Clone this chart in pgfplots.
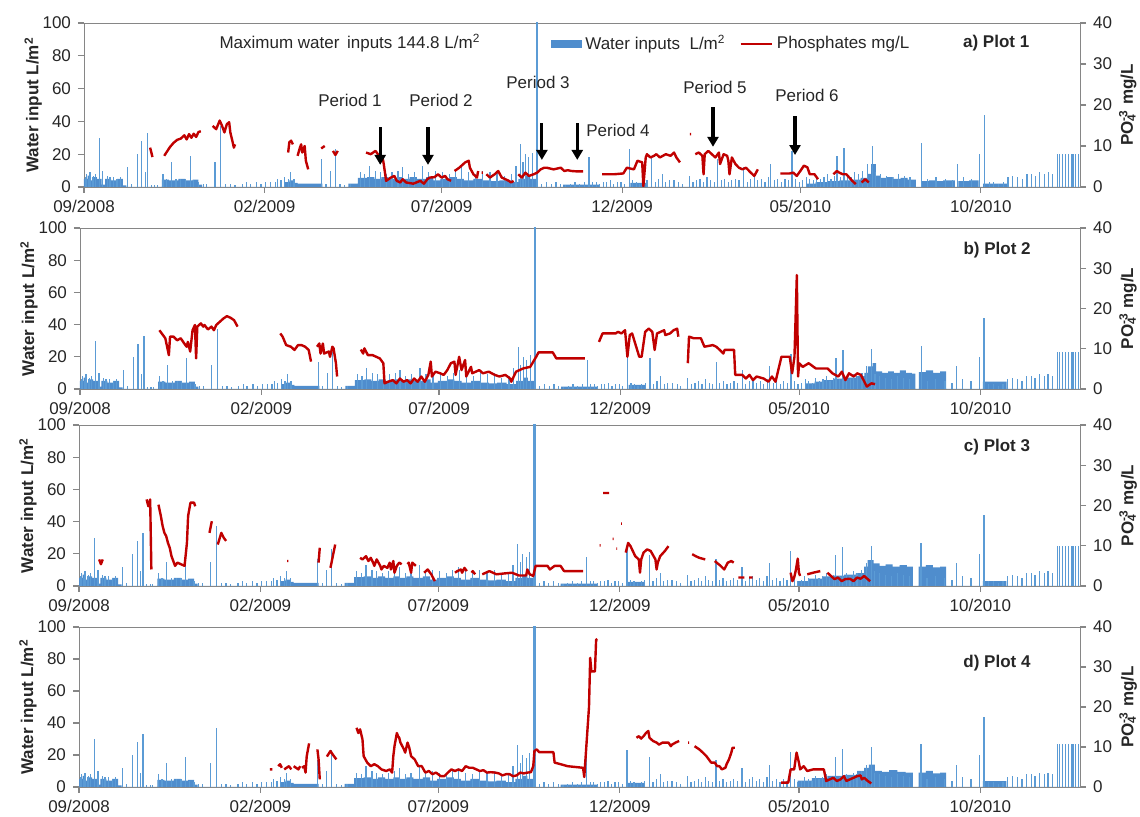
\documentclass[border=0pt]{standalone}
\usepackage{fontspec}
\setmainfont{Liberation Sans}
\usepackage{pgfplots}
\usepackage{pgfplotstable}
\pgfplotsset{compat=1.18}
\usetikzlibrary{arrows.meta}

\definecolor{wblue}{RGB}{79,141,205}
\definecolor{wbluelt}{RGB}{91,155,213}
\definecolor{pred}{RGB}{192,0,0}
\definecolor{axgray}{RGB}{134,134,134}
\definecolor{txt}{RGB}{38,38,38}
\newcommand{\tfont}{\fontsize{8.5}{10}\selectfont}

% daily water inputs: dense low base (step) + single days
\pgfplotstableread[row sep=\\]{
d v\\
0 5\\ 3 7\\ 5 4\\ 8 6\\ 11 5\\ 15 1.5\\ 18 5\\ 23 4\\ 28 5\\ 33 1\\ 36 0\\ 66 4.5\\ 72 4\\ 80 5\\ 86 4\\ 92 4.5\\ 97 1.5\\ 100 0\\
170 3\\ 174 4\\ 178 2.5\\ 181 2\\ 202 0\\ 224 2\\ 232 5.5\\ 240 6\\ 246 5\\ 252 6\\ 258 5\\ 265 6\\ 270 5\\ 276 6\\ 282 5\\
290 6\\ 296 4\\ 302 5\\ 310 6\\ 316 5\\ 322 4\\ 330 5\\ 338 4\\ 345 3.5\\ 352 4\\ 360 3\\ 368 5\\ 374 7\\ 378 5\\ 384 0\\
406 1.5\\ 437 0\\ 463 2.5\\ 477 0\\ 606 0\\
}\floorearly

\pgfplotstableread[row sep=\\]{
d v\\
606 0\\ 612 2\\ 620 3\\ 630 3.5\\ 640 4\\ 650 4.5\\ 658 5.5\\ 664 8\\ 667 14\\ 671 7\\ 675 5.5\\ 680 6\\ 686 5\\ 692 5.5\\
698 4.5\\ 705 0\\ 710 3.5\\ 716 4\\ 722 3.5\\ 728 4\\ 738 0\\ 741 3.5\\ 750 4\\ 758 0\\ 762 2\\ 782 0\\ 844 0\\
}\floorA
\pgfplotstableread[row sep=\\]{
d v\\
606 0\\ 612 3.5\\ 620 4.5\\ 627 5.5\\ 636 6.5\\ 645 7\\ 655 8\\ 662 10\\ 665 14\\ 669 16\\ 672 11\\ 677 10\\ 682 11\\ 687 10\\
692 11.5\\ 697 10\\ 702 9.5\\ 705 0\\ 708 10.5\\ 714 11.5\\ 720 10\\ 726 11\\ 731 0\\ 762 4.5\\ 782 0\\ 844 0\\
}\floorB
\pgfplotstableread[row sep=\\]{
d v\\
606 3\\ 615 4.5\\ 627 6\\ 636 6.5\\ 645 7\\ 655 8\\ 662 12\\ 665 16\\ 670 14\\ 675 12.5\\ 680 13.5\\ 686 12\\ 692 13\\ 698 12\\
703 0\\ 708 12\\ 714 13\\ 720 11.5\\ 726 12\\ 731 0\\ 762 3\\ 782 0\\ 844 0\\
}\floorC
\pgfplotstableread[row sep=\\]{
d v\\
606 4\\ 618 5.5\\ 631 7\\ 645 7.5\\ 656 10\\ 662 12\\ 666 14\\ 671 10\\ 677 9.5\\ 683 10.5\\ 690 9.5\\ 697 9\\ 703 0\\ 708 9\\
714 10\\ 720 8.5\\ 726 9\\ 731 0\\ 762 3.7\\ 782 0\\ 844 0\\
}\floorD

\pgfplotstableread[row sep=\\]{
d v\\
1 6\\ 2 8\\ 4 5\\ 5 9\\ 7 6\\ 8 7\\ 10 8\\ 13 30\\ 16 10\\ 20 7\\ 22 6\\ 25 6\\ 28 5\\ 31 6\\ 37 12\\ 40 2\\ 45 20\\ 49 28\\
52 9\\ 54 33\\ 57 1\\ 60 1\\ 62 1\\ 67 8\\ 70 5\\ 74 15\\ 78 5\\ 82 5\\ 86 5\\ 90 19\\ 93 4\\ 97 3\\ 101 2\\ 104 2\\ 111 15\\
116 37\\ 120 2\\ 124 2\\ 128 1\\ 134 2\\ 138 3\\ 141 2\\ 146 3\\ 150 2\\ 154 3\\ 158 3\\ 162 3\\ 164 5\\ 167 4\\ 170 6\\ 173 5\\
175 9\\ 178 5\\ 201 17\\ 205 2\\ 209 10\\ 213 23\\ 217 2\\ 221 1\\ 226 2\\ 234 9\\ 238 8\\ 242 13\\ 247 10\\ 251 9\\ 256 8\\
261 9\\ 266 10\\ 270 12\\ 275 8\\ 280 9\\ 287 13\\ 292 9\\ 298 10\\ 304 9\\ 310 8\\ 315 10\\ 320 12\\ 326 9\\ 332 8\\ 338 10\\
344 9\\ 350 10\\ 356 7\\ 362 8\\ 366 13\\ 370 26\\ 372 15\\ 374 20\\ 377 18\\ 380 21\\
388 2\\ 392 3\\ 396 2\\ 400 3\\ 404 2\\ 408 1\\ 412 2\\ 416 3\\ 420 2\\ 424 3\\ 428 18\\ 431 3\\ 434 3\\ 437 2\\ 440 3\\ 443 3\\
446 4\\ 449 2\\ 452 3\\ 455 3\\ 458 2\\ 462 23\\ 465 4\\ 468 3\\ 471 2\\ 474 3\\ 477 4\\ 481 19\\ 484 3\\ 487 5\\ 490 8\\
493 3\\ 496 4\\ 500 4\\ 504 3\\ 507 2\\ 513 7\\ 516 3\\ 519 4\\ 522 5\\ 525 3\\ 528 6\\ 531 4\\ 534 3\\ 537 17\\ 540 4\\ 543 5\\
546 3\\ 549 4\\ 552 5\\ 555 4\\ 559 12\\ 562 3\\ 565 5\\ 568 6\\ 571 4\\ 574 5\\ 577 3\\ 580 6\\ 582 14\\ 585 4\\ 588 5\\
591 3\\ 594 5\\ 597 4\\ 600 22\\ 603 5\\ 606 3\\ 609 4\\ 612 6\\ 615 5\\ 618 4\\ 621 7\\ 624 5\\ 627 6\\ 630 8\\ 633 5\\
636 7\\ 638 19\\ 641 6\\ 644 24\\ 647 8\\ 650 6\\ 653 9\\ 656 8\\ 660 10\\ 664 14\\ 668 25\\ 671 9\\ 675 8\\ 680 7\\ 685 6\\
690 8\\ 695 7\\ 700 6\\ 710 27\\ 715 5\\ 722 6\\ 730 5\\ 736 4\\ 740 14\\ 745 6\\ 752 5\\ 759 20\\ 763 44\\ 767 3\\ 771 3\\
775 2\\ 779 3\\ 783 6\\ 787 7\\ 791 6\\ 795 5\\ 799 8\\ 803 8\\ 806 7\\ 810 9\\ 814 8\\ 817 9\\ 821 8\\
}\spikes

% phosphates, mg/L (nan = gap in the record)
\pgfplotstableread[row sep=\\]{
d v\\
56 9.6\\ 57 8.5\\ 58 7.3\\ nan nan\\
68 7.6\\ 70 8.5\\ 73 9.8\\ 76 10.8\\ 79 11.5\\ 82 11.8\\ 85 12.6\\ 87 11.6\\ 89 12.9\\ 91 12.0\\ 93 13.0\\ 95 12.2\\ 97 13.4\\ 99 13.6\\ nan nan\\
109 14.9\\ 112 14.1\\ 115 16.2\\ 117 14.9\\ 119 13.3\\ 121 15.3\\ 123 15.8\\ 124 13.3\\ 126 10.9\\ 127 9.6\\ 128 10.4\\ nan nan\\
173 8.4\\ 174 10.9\\ 175.5 11.3\\ 177 10.4\\ nan nan\\
181 7.6\\ 183 9.6\\ 184 10.4\\ 185 8.4\\ 187 10.0\\ 188 6.4\\ 190 4.3\\ nan nan\\
201 9.4\\ 204 10.0\\ nan nan\\
211 8.8\\ 213 7.8\\ 215 8.8\\ nan nan\\
239 8.4\\ 243 8.0\\ 247 8.8\\ 250 7.6\\ 253 7.2\\ 254 5.6\\ 256 1.5\\ 260 2.3\\ 263 2.7\\ 265 1.5\\ 268 1.1\\ 270 1.9\\ 273 1.1\\
279 0.8\\ 285 1.5\\ 288 0.8\\ 291 1.9\\ 293 2.3\\ 297 2.4\\ 300 3.1\\ 303 2.3\\ 306 2.7\\ 308 1.9\\ 311 1.5\\ nan nan\\
314 3.9\\ 318 4.7\\ 323 6.0\\ 326 6.4\\ 327 4.7\\ 330 3.1\\ 333 2.3\\ 334 3.9\\ nan nan\\
337 3.5\\ 338 3.5\\ nan nan\\
341 3.1\\ 344 2.3\\ 348 3.1\\ 351 3.9\\ 354 2.3\\ 357 1.9\\ 360 1.5\\ 362 1.1\\ 364 1.5\\ nan nan\\
368 3.1\\ 371 2.3\\ 374 3.5\\ 377 2.7\\ 381 3.1\\ 384 3.5\\ 387 4.3\\ 390 4.7\\ 392 4.7\\ 398 4.3\\ 404 4.7\\ 407 3.9\\ 410 4.1\\
413 3.9\\ 418 3.8\\ 423 3.8\\ nan nan\\
439 3.1\\ 449 3.1\\ 457 3.3\\ 460 4.7\\ 466 4.3\\ 469 6.4\\ 473 6.0\\ 474 0.2\\ 476 7.2\\ 477 8.0\\ 480 7.2\\ 483 7.6\\ 485 8.0\\
488 7.2\\ 493 8.0\\ 497 7.6\\ 500 8.4\\ 502 7.2\\ 505 6.0\\ nan nan\\
513.5 12.9\\ 514.5 12.9\\ nan nan\\
518 8.0\\ 521 8.4\\ 524 7.6\\ 525 3.1\\ 526 8.0\\ 529 8.8\\ 532 8.0\\ 535 7.2\\ 538 8.4\\ 539 5.6\\ 542 8.0\\ 545 7.6\\ 546 6.4\\
547 3.1\\ 549 7.2\\ 552 5.6\\ 555 4.7\\ 558 4.3\\ 561 4.7\\ 565 3.5\\ 568 2.7\\ 571 4.3\\ nan nan\\
590 3.3\\ 598 3.3\\ 601 3.5\\ 604 2.7\\ 607 3.9\\ 610 5.2\\ 613 4.8\\ 615 3.1\\ 619 3.1\\ 622 1.9\\ nan nan\\
635 3.1\\ 638 3.9\\ 640 3.5\\ 643 3.1\\ 646 3.1\\ 651 1.5\\ 654 0.7\\ nan nan\\
659 1.1\\ 662 1.9\\ 665 1.1\\
}\redA

\pgfplotstableread[row sep=\\]{
d v\\
67 14.6\\ 70 13.4\\ 72 12.6\\ 75 8.4\\ 76 13.0\\ 79 13.0\\ 82 12.1\\ 85 12.6\\ 88 11.3\\ 90 10.5\\ 91 11.7\\ 93 9.3\\ 95 14.6\\
97 15.9\\ 98 7.6\\ 99 15.5\\ 102 16.3\\ 104 15.5\\ 105 15.9\\ 108 14.8\\ 111 15.5\\ 113 14.6\\ 115 15.9\\ 118 16.7\\ 121 17.5\\
124 18.1\\ 127 17.7\\ 130 17.1\\ 133 15.5\\ nan nan\\
169 13.8\\ 171 13.0\\ 174 10.9\\ 178 10.5\\ 181 9.7\\ 184 10.9\\ 187 10.9\\ 190 10.5\\ 193 9.7\\ 195 6.8\\ nan nan\\
200 10.5\\ 202 11.3\\ 203 8.8\\ 205 11.3\\ 206 8.8\\ 210 9.3\\ 211 8.0\\ 213 10.5\\ 214 10.1\\ 216 6.4\\ 217 3.1\\ nan nan\\
237 9.8\\ 239 8.8\\ 240 10.1\\ 243 8.4\\ 247 8.4\\ 250 8.0\\ 253 7.6\\ 256 6.4\\ 257 1.4\\ 260 1.8\\ 264 2.2\\ 267 1.4\\ 270 2.6\\
273 1.8\\ 276 2.2\\ 279 1.4\\ 282 2.6\\ 285 1.8\\ 288 3.1\\ 291 1.8\\ 294 3.5\\ 296 6.8\\ 297 3.1\\ 300 4.3\\ 304 3.9\\ 307 3.5\\
310 4.7\\ 313 6.4\\ 316 6.8\\ 317 3.5\\ 320 8.0\\ 322 4.7\\ 325 7.2\\ 326 3.1\\ 330 5.5\\ 331 3.9\\ 334 4.3\\ 337 4.7\\ 340 3.9\\
345 4.3\\ 350 3.5\\ 354 3.1\\ 359 3.5\\ 363 2.6\\ 364 1.8\\ 368 4.3\\ 374 5.1\\ 380 5.5\\ 385 8.0\\ 387 9.1\\ 393 9.1\\ 399 9.1\\
402 7.6\\ 408 7.6\\ 416 7.6\\ 426 7.6\\ nan nan\\
438 11.7\\ 441 13.8\\ 452 13.8\\ 454 14.2\\ 457 13.8\\ 460 14.6\\ 462 8.0\\ 464 13.4\\ 466 13.8\\ 469 10.9\\ 472 8.0\\ 474 8.0\\
477 14.2\\ 480 15.0\\ 483 14.2\\ 485 9.7\\ 487 13.8\\ 490 14.2\\ 493 14.6\\ 494 13.4\\ 498 13.8\\ 501 14.6\\ 504 15.0\\ 505 13.0\\ nan nan\\
513 6.4\\ 514 13.0\\ 518 12.6\\ 524 12.6\\ 527 10.5\\ 534 10.9\\ 537 10.5\\ 540 9.7\\ 543 8.8\\ 544 9.7\\ 552 9.7\\ 553 3.5\\
559 3.5\\ 562 2.6\\ 565 3.5\\ 568 2.2\\ 571 3.1\\ 577 2.6\\ 581 1.8\\ 584 3.1\\ 587 1.8\\ 592 8.0\\ 599 8.0\\ 601 3.9\\ 603 8.0\\
605 28.3\\ 606 3.1\\ 607 6.4\\ 610 5.5\\ 615 6.4\\ 621 5.1\\ 631 5.1\\ 635 3.9\\ 640 3.1\\ 643 4.3\\ 646 2.2\\ 649 3.9\\ 653 3.1\\
656 3.9\\ 659 3.5\\ 662 1.8\\ 664 0.6\\ 668 1.4\\ 671 1.2\\
}\redB

\pgfplotstableread[row sep=\\]{
d v\\
17 6.6\\ 18.5 5.4\\ 20 6.6\\ nan nan\\
57 21.5\\ 58.5 19.8\\ 60 21.5\\ 61 4.1\\ nan nan\\
67 20.2\\ 69 17.4\\ 70.5 14.9\\ 72 13.2\\ 73.5 12.4\\ 75 10.7\\ 76.5 9.5\\ 78 7.4\\ 81 5.0\\ 83 5.8\\ 86 5.4\\ 89 5.0\\ 91 10.7\\
92 17.4\\ 94 20.7\\ 97 20.7\\ 98 19.8\\ nan nan\\
110 13.2\\ 112 16.1\\ nan nan\\
117 10.3\\ 120 13.2\\ 122 12.0\\ 124 11.2\\ nan nan\\
175.5 6.2\\ 176.5 6.2\\ nan nan\\
202 5.8\\ 203 9.5\\ nan nan\\
212 4.5\\ 214 7.4\\ 216 10.3\\ nan nan\\
237 7.0\\ 239 6.6\\ 242 7.4\\ 244 6.2\\ 246 7.0\\ 248 5.8\\ 249 5.0\\ 251 6.6\\ 254 5.0\\ 255 4.1\\ 257 5.0\\ 260 4.5\\ 262 5.8\\
263 4.1\\ 265 6.2\\ 266 3.3\\ 268 5.0\\ 270 5.8\\ 272 5.4\\ nan nan\\
277 5.4\\ 278 5.8\\ 280 3.3\\ 281 5.8\\ 284 5.0\\ nan nan\\
291 3.3\\ 294 4.1\\ 297 2.9\\ 300 1.2\\ nan nan\\
317 3.3\\ 319 3.7\\ 322 4.1\\ 323 3.3\\ 325 4.5\\ 327 3.7\\ nan nan\\
331 3.3\\ 332 3.7\\ 334 2.9\\ nan nan\\
340 2.9\\ 346 3.7\\ 349 3.3\\ 352 2.9\\ 358 3.1\\ 365 3.3\\ 371 2.6\\ 377 2.6\\ 378 4.1\\ 380 2.9\\ 383 2.5\\ 385 5.0\\ 388 5.0\\
395 5.0\\ 397 4.1\\ 401 5.0\\ 406 5.0\\ 409 3.7\\ 425 3.7\\ nan nan\\
439 10.1\\ 439.8 10.1\\ nan nan\\
442 23.1\\ 447 23.1\\ nan nan\\
450 11.7\\ 450.8 11.7\\ nan nan\\
453 9.3\\ 453.8 9.3\\ nan nan\\
457 15.5\\ 457.8 15.5\\ nan nan\\
461 8.3\\ 463 10.7\\ 465 9.9\\ 469 7.4\\ 472 6.6\\ 473 3.3\\ 474 6.6\\ 476 8.3\\ 479 9.1\\ 482 8.7\\ 486 6.6\\ 487 4.1\\ 488 5.8\\
490 7.4\\ 494 8.7\\ 497 9.9\\ nan nan\\
517 7.9\\ 520 7.4\\ 523 7.0\\ 528 6.6\\ nan nan\\
536 6.2\\ 541 5.0\\ 544 4.1\\ 547 5.8\\ 550 6.2\\ 552 5.8\\ nan nan\\
556 2.1\\ 561 2.1\\ nan nan\\
565 2.1\\ 568 2.1\\ nan nan\\
600 3.3\\ 601.5 1.2\\ 603 2.1\\ 604.5 4.1\\ 606 6.8\\ 607 3.3\\ 608 2.5\\ nan nan\\
614 2.9\\ 619 3.3\\ 625 3.7\\ nan nan\\
631 3.3\\ 634 2.5\\ 637 1.7\\ 640 2.1\\ 643 1.2\\ 646 1.7\\ 650 1.8\\ 653 1.2\\ 656 2.1\\ 659 1.8\\ 662 2.5\\ 665 1.7\\ 667 1.2\\
}\redC

\pgfplotstableread[row sep=\\]{
d v\\
161 4.4\\ 163 4.4\\ nan nan\\
168 5.2\\ 169.5 5.7\\ 171 4.8\\ nan nan\\
173 4.4\\ 175 4.8\\ 177 5.2\\ 179 4.4\\ nan nan\\
181 5.2\\ 183 4.8\\ 185 4.4\\ 186.5 5.2\\ nan nan\\
188 4.8\\ 190 5.2\\ 191 3.6\\ 192 7.7\\ 194 10.9\\ nan nan\\
201 9.4\\ 202 6.9\\ 203 1.9\\ nan nan\\
209 7.6\\ 212 9.0\\ 214 8.1\\ 217 6.9\\ nan nan\\
234 14.8\\ 235.5 13.5\\ 237 14.4\\ 239 11.9\\ 240 7.7\\ 243 6.1\\ 246 5.2\\ 249 5.7\\ 252 5.2\\ 255 4.4\\ 259 4.0\\ 262 4.4\\
264 3.6\\ 265 7.7\\ 266 10.2\\ 268 13.5\\ 269 12.7\\ 270 12.3\\ 271 11.1\\ 274 9.4\\ 275 8.6\\ 277 11.1\\ 278.5 9.8\\ 280 7.7\\
283 6.9\\ 286 5.2\\ 289 5.2\\ 292 3.6\\ 295 4.0\\ 298 3.2\\ 301 3.6\\ 305 2.7\\ 308 2.7\\ 311 3.6\\ 314 4.4\\ 317 4.0\\ 320 4.4\\
323 4.0\\ 326 5.2\\ 329 4.8\\ 332 4.8\\ 335 4.4\\ 338 4.0\\ 341 4.2\\ 344 3.6\\ 347 3.7\\ 351 3.6\\ 354 3.4\\ 357 2.9\\ 360 3.2\\
363 3.2\\ 366 2.7\\ 369 2.9\\ 372 3.6\\ 375 3.4\\ 378 3.6\\ 381 3.7\\ 383 5.2\\ 384 9.0\\ 386 9.4\\ 388 8.7\\ 400 8.7\\ 401 6.1\\
406 5.7\\ 412 5.2\\ 425 4.8\\ 426 2.5\\ 430 20\\ 431 32.3\\ 432 28.9\\ 435 28.9\\ 436 36.8\\ 437 37\\ nan nan\\
470 12.3\\ 472 12.7\\ 474 12.1\\ 476 12.7\\ 478 13.5\\ 480 14.0\\ 481 12.3\\ 484 11.5\\ 487 11.1\\ 489 10.6\\ 492 11.1\\ 497 11.1\\
499 10.2\\ 500 10.6\\ 503 11.1\\ 506 11.5\\ nan nan\\
513.5 11.1\\ 514.5 11.1\\ nan nan\\
519 10.2\\ 521 9.8\\ 523 9.4\\ 526 8.6\\ 529 7.7\\ 531 6.9\\ 533 6.1\\ 536 6.1\\ 538 5.2\\ 540 5.2\\ 542 4.4\\ 545 4.8\\ 546 5.7\\
548 6.9\\ 550 8.6\\ 551 9.8\\ 553 9.8\\ nan nan\\
592 1.1\\ 598 1.1\\ 600 4.4\\ 603 4.4\\ 605 8.6\\ 607 6.1\\ 608 4.4\\ 611 5.2\\ 614 4.0\\ 619 4.4\\ 625 4.4\\ 628 4.4\\ 630 1.5\\
633 1.9\\ 636 2.3\\ 639 1.5\\ 642 1.9\\ 645 2.7\\ 647 1.5\\ 650 1.9\\ 653 2.3\\ 656 2.7\\ 659 2.9\\ 660 1.9\\ 662 2.3\\ 665 1.5\\ 668 0.9\\
}\redD

\pgfplotsset{
  base/.style={scale only axis, xmin=0, xmax=844, clip=true,
    /pgf/number format/assume math mode=true,
    tick label style={font=\tfont, text=txt},
    major tick length=3pt, tick align=outside,
    axis line style={axgray}, every tick/.style={axgray, line width=0.6pt}},
  leftax/.style={base, ymin=0, ymax=100, ytick={0,20,...,100},
    xtick={0,153,303,456,607,760},
    xticklabels={09/2008,02/2009,07/2009,12/2009,05/2010,10/2010},
    xtick pos=bottom, ytick pos=left,
    ylabel={\bfseries Water input L/m\textsuperscript{2}},
    ylabel style={at={(axis description cs:-0.051,0.5)}, anchor=center, font=\tfont, text=txt}},
  rightax/.style={base, ymin=0, ymax=40, ytick={0,10,...,40},
    axis y line*=right, axis x line=none,
    ylabel={\bfseries PO\rlap{\textsubscript{4}}\textsuperscript{-3} mg/L},
    ylabel style={at={(axis description cs:1.048,0.5)}, anchor=center, font=\tfont, text=txt}},
  floorst/.style={const plot, fill=wblue, draw=none},
  spikest/.style={ycomb, wbluelt, line width=0.6pt, mark=none},
  redst/.style={pred, line width=1.2pt, mark=none, unbounded coords=jump, line join=round},
}
\tikzset{
  arr/.style={-{Triangle[width=5.5pt,length=5pt]}, line width=1.6pt, black},
  lab/.style={font=\tfont, text=txt},
}

\begin{document}
\begin{tikzpicture}
\path[use as bounding box] (0,0) rectangle (570pt,408.5pt);

% ---------- a) Plot 1
\begin{axis}[leftax, at={(42pt,315pt)}, anchor=south west, width=498pt, height=82pt]
\addplot[floorst] table {\floorearly} \closedcycle;
\addplot[floorst] table {\floorA} \closedcycle;
\addplot[spikest] table {\spikes};
\addplot[spikest, line width=1.2pt] coordinates {(384,144.8)};
\addplot[spikest] coordinates {(825,20) (826.5,20) (829,20) (831.5,20) (834,20) (836.5,20) (838,20) (840.5,20) (842.5,20)};
\end{axis}
\begin{axis}[rightax, at={(42pt,315pt)}, anchor=south west, width=498pt, height=82pt,
  legend style={at={(0.468,0.872)}, anchor=west, draw=none, fill=none, font=\tfont, text=txt,
    legend columns=2, inner sep=0pt, /tikz/every even column/.append style={column sep=5pt}}]
\addlegendimage{legend image code/.code={\fill[wblue] (0pt,-1.8pt) rectangle (15pt,1.8pt);}}
\addlegendentry{Water inputs\ \ L/m\textsuperscript{2}}
\addplot[redst, legend image code/.code={\draw[pred, line width=1.2pt] (0pt,0pt) -- (15.5pt,0pt);}] table {\redA};
\addlegendentry{Phosphates mg/L}
\node[lab] at (axis cs:225.4,35.1) {Maximum water\, inputs 144.8 L/m\textsuperscript{2}};
\node[lab, font=\tfont\bfseries] at (axis cs:773,35.1) {a) Plot 1};
\node[lab] at (axis cs:225.4,21.2) {Period 1};
\node[lab] at (axis cs:302.5,21.2) {Period 2};
\node[lab] at (axis cs:384.7,25.6) {Period 3};
\node[lab] at (axis cs:452.5,13.9) {Period 4};
\node[lab] at (axis cs:534.7,24.2) {Period 5};
\node[lab] at (axis cs:612.7,22.4) {Period 6};
\draw[arr] (axis cs:251,14.6) -- (axis cs:251,5.4);
\draw[arr] (axis cs:291.5,14.6) -- (axis cs:291.5,5.4);
\draw[arr] (axis cs:388,15.6) -- (axis cs:388,6.6);
\draw[arr] (axis cs:418,15.6) -- (axis cs:418,6.6);
\draw[arr] (axis cs:533,19.5) -- (axis cs:533,9.8);
\draw[arr] (axis cs:602.5,17.3) -- (axis cs:602.5,7.8);
\end{axis}

% ---------- b) Plot 2
\begin{axis}[leftax, at={(40pt,214pt)}, anchor=south west, width=500pt, height=80.5pt]
\addplot[floorst] table {\floorearly} \closedcycle;
\addplot[floorst] table {\floorB} \closedcycle;
\addplot[spikest] table {\spikes};
\addplot[spikest, line width=1.2pt] coordinates {(384,144.8)};
\addplot[spikest] coordinates {(825,23) (826.5,23) (829,23) (831.5,23) (834,23) (836.5,23) (838,23) (840.5,23) (842.5,23)};
\end{axis}
\begin{axis}[rightax, at={(40pt,214pt)}, anchor=south west, width=500pt, height=80.5pt]
\addplot[redst] table {\redB};
\node[lab, font=\tfont\bfseries] at (axis cs:774,34.5) {b) Plot 2};
\end{axis}

% ---------- c) Plot 3
\begin{axis}[leftax, at={(39.5pt,115.5pt)}, anchor=south west, width=500.5pt, height=80.5pt]
\addplot[floorst] table {\floorearly} \closedcycle;
\addplot[floorst] table {\floorC} \closedcycle;
\addplot[spikest] table {\spikes};
\addplot[spikest, line width=1.2pt] coordinates {(384,144.8)};
\addplot[spikest] coordinates {(825,25) (826.5,25) (829,25) (831.5,25) (834,25) (836.5,25) (838,25) (840.5,25) (842.5,25)};
\end{axis}
\begin{axis}[rightax, at={(39.5pt,115.5pt)}, anchor=south west, width=500.5pt, height=80.5pt]
\addplot[redst] table {\redC};
\node[lab, font=\tfont\bfseries] at (axis cs:774,34.6) {c) Plot 3};
\end{axis}

% ---------- d) Plot 4
\begin{axis}[leftax, at={(39.5pt,15pt)}, anchor=south west, width=500.5pt, height=80pt]
\addplot[floorst] table {\floorearly} \closedcycle;
\addplot[floorst] table {\floorD} \closedcycle;
\addplot[spikest] table {\spikes};
\addplot[spikest, line width=1.2pt] coordinates {(384,144.8)};
\addplot[spikest] coordinates {(825,27) (826.5,27) (829,27) (831.5,27) (834,27) (836.5,27) (838,27) (840.5,27) (842.5,27)};
\end{axis}
\begin{axis}[rightax, at={(39.5pt,15pt)}, anchor=south west, width=500.5pt, height=80pt]
\addplot[redst] table {\redD};
\node[lab, font=\tfont\bfseries] at (axis cs:774,31) {d) Plot 4};
\end{axis}
\end{tikzpicture}
\end{document}
